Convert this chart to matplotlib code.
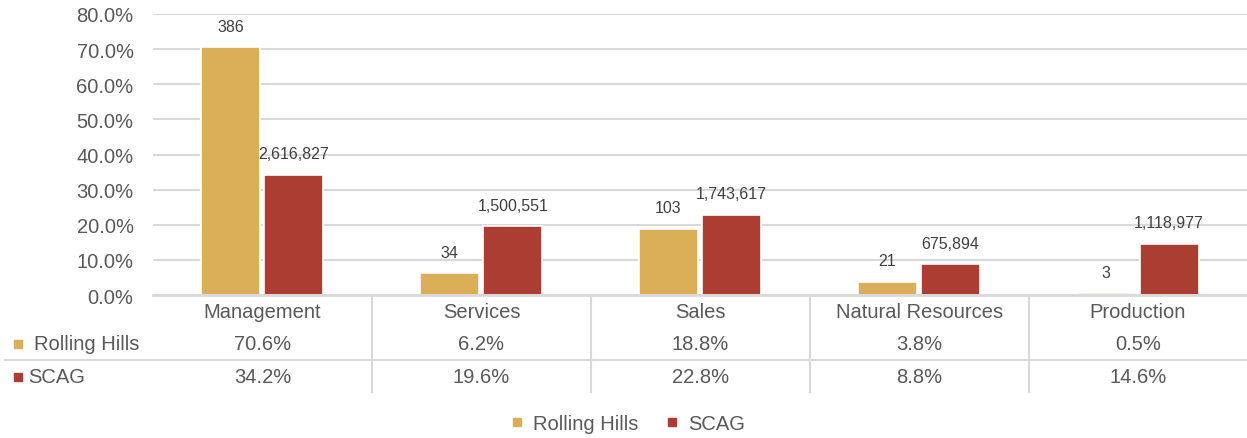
import matplotlib.pyplot as plt
from matplotlib.lines import Line2D

categories = ['Management', 'Services', 'Sales', 'Natural Resources', 'Production']
rolling_hills = [70.6, 6.2, 18.8, 3.8, 0.5]  # percent
scag = [34.2, 19.6, 22.8, 8.8, 14.6]  # percent
rh_counts = ['386', '34', '103', '21', '3']
scag_counts = ['2,616,827', '1,500,551', '1,743,617', '675,894', '1,118,977']
series_names = ['Rolling Hills', 'SCAG']

gold = '#DBAE58'
red = '#AB3D32'
grey_txt = '#595959'
grid_c = '#D9D9D9'

plt.rcParams['font.family'] = ['Liberation Sans', 'DejaVu Sans']

W, H = 1247, 439
fig = plt.figure(figsize=(W / 100, H / 100), dpi=100)
ax = fig.add_axes([153 / W, 1 - 296 / H, 1 - 153 / W, (296 - 15) / H])

x = list(range(len(categories)))
bw = 0.27
gap = 0.009
rh_x = [i - bw / 2 - gap for i in x]
sc_x = [i + bw / 2 + gap for i in x]
ax.bar(rh_x, [v / 100 for v in rolling_hills], width=bw, color=gold,
       edgecolor='white', linewidth=1.2, zorder=3)
ax.bar(sc_x, [v / 100 for v in scag], width=bw, color=red,
       edgecolor='white', linewidth=1.2, zorder=3)

lbl_kw = dict(ha='center', va='center', fontsize=11.5, color='#404040', zorder=4)
for xi, v, t in zip(rh_x, rolling_hills, rh_counts):
    ax.annotate(t, (xi, v / 100), xytext=(0, 21), textcoords='offset pixels', **lbl_kw)
for xi, v, t in zip(sc_x, scag, scag_counts):
    ax.annotate(t, (xi, v / 100), xytext=(0, 21), textcoords='offset pixels', **lbl_kw)

ax.set_xlim(-0.5, len(categories) - 0.5)
ax.set_ylim(0, 0.8)
ax.set_yticks([i / 10 for i in range(9)])
ax.set_yticklabels([f'{i * 10:.1f}%' for i in range(9)], fontsize=14.5, color=grey_txt)
ax.tick_params(axis='y', length=0, pad=14)
ax.set_xticks([])
ax.grid(axis='y', color=grid_c, linewidth=1.5, zorder=0)
for s in ['top', 'right', 'left']:
    ax.spines[s].set_visible(False)
ax.spines['bottom'].set_color(grid_c)
ax.spines['bottom'].set_linewidth(2)
ax.spines['bottom'].set_zorder(5)

# data table below the axis (figure pixel coords)
def fx(px):
    return px / W

def fy(py):
    return 1 - py / H

col_edges = [153, 372, 591, 810, 1029, 1247]
centers = [(a + b) / 2 for a, b in zip(col_edges[:-1], col_edges[1:])]
for cx, cat, rv, sv in zip(centers, categories, rolling_hills, scag):
    fig.text(fx(cx), fy(313), cat, ha='center', va='center', fontsize=14.5, color=grey_txt)
    fig.text(fx(cx), fy(345), f'{rv:.1f}%', ha='center', va='center', fontsize=14.5, color=grey_txt)
    fig.text(fx(cx), fy(378), f'{sv:.1f}%', ha='center', va='center', fontsize=14.5, color=grey_txt)

for e in col_edges[1:-1]:
    fig.add_artist(Line2D([fx(e), fx(e)], [fy(296), fy(393)], color=grid_c, linewidth=1.5))
fig.add_artist(Line2D([fx(5), fx(1247)], [fy(361), fy(361)], color=grid_c, linewidth=1.5))

fig.add_artist(Line2D([fx(18)], [fy(345)], marker='s', markersize=5.5, color=gold, linestyle='none'))
fig.text(fx(34), fy(345), series_names[0], ha='left', va='center', fontsize=14.5, color=grey_txt)
fig.add_artist(Line2D([fx(18)], [fy(378)], marker='s', markersize=5.5, color=red, linestyle='none'))
fig.text(fx(28), fy(378), series_names[1], ha='left', va='center', fontsize=14.5, color=grey_txt)

handles = [Line2D([], [], marker='s', markersize=5.5, color=c, linestyle='none') for c in (gold, red)]
fig.legend(handles, series_names, loc='center', bbox_to_anchor=(0.502, fy(425)), ncol=2,
           frameon=False, fontsize=14.5, labelcolor=grey_txt, handletextpad=0.3, columnspacing=1.2,
           handlelength=1.0)

fig.savefig('out.png', dpi=100)
